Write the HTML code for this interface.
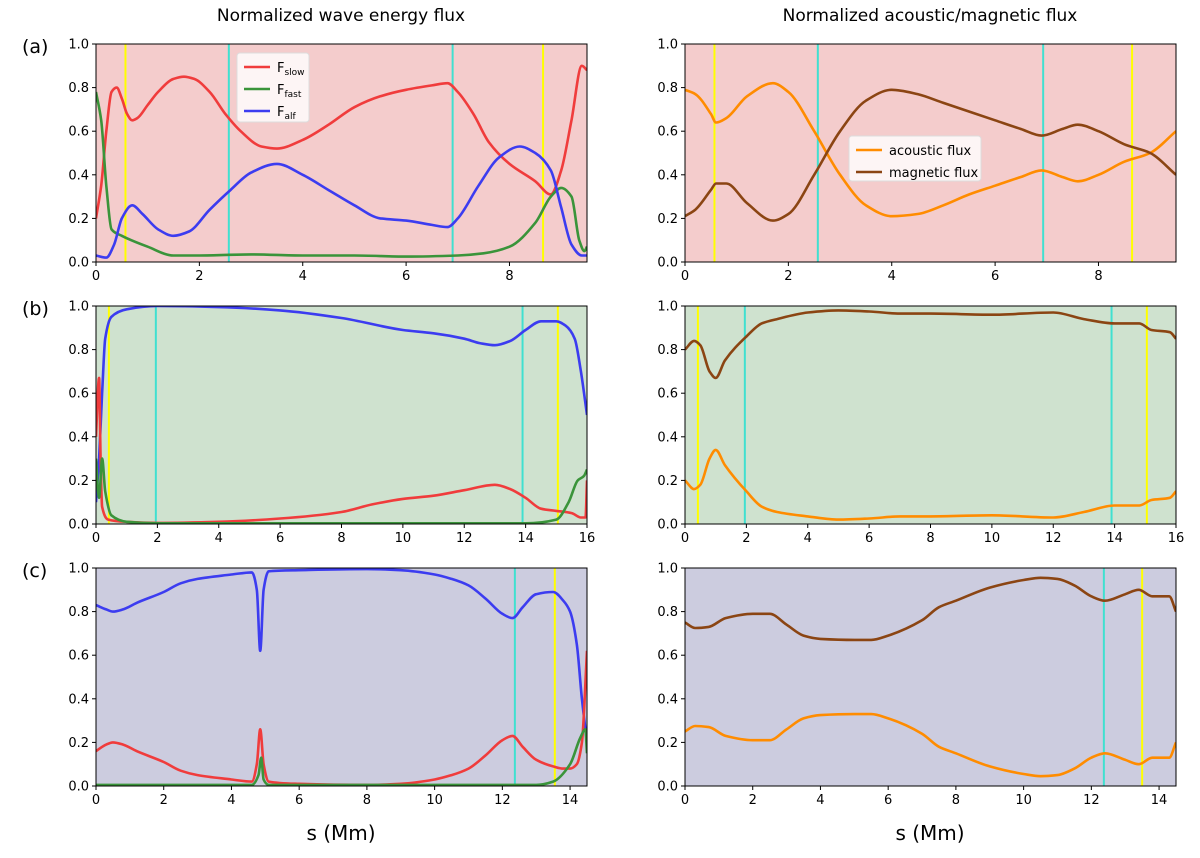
<!DOCTYPE html>
<html><head><meta charset="utf-8"><style>
body{margin:0;background:#fff;width:1200px;height:853px;overflow:hidden;font-family:"Liberation Sans",sans-serif}
svg text{font-family:"DejaVu Sans","Liberation Sans",sans-serif}
</style></head><body>
<svg id="fig" width="1200" height="853" viewBox="0 0 1200 853" xmlns="http://www.w3.org/2000/svg">
<text x="341" y="21" font-size="17" text-anchor="middle">Normalized wave energy flux</text>
<text x="930" y="21" font-size="17" text-anchor="middle">Normalized acoustic/magnetic flux</text>
<text x="22" y="53" font-size="19">(a)</text>
<text x="22" y="315" font-size="19">(b)</text>
<text x="22" y="577" font-size="19">(c)</text>
<text x="341" y="840" font-size="20" text-anchor="middle">s (Mm)</text>
<text x="930" y="840" font-size="20" text-anchor="middle">s (Mm)</text>
</svg>
<script>
// Panel (a) left
const aSx=[0,0.1,0.2,0.3,0.4,0.5,0.6,0.7,0.8,1.0,1.2,1.5,1.7,1.9,2.2,2.5,2.8,3.2,3.5,4.0,4.5,5.0,5.5,6.0,6.5,6.8,7.0,7.3,7.6,8.0,8.5,8.8,9.0,9.2,9.4,9.5];
const aSy=[0.2,0.35,0.6,0.78,0.8,0.75,0.68,0.65,0.66,0.72,0.78,0.84,0.85,0.84,0.78,0.68,0.6,0.53,0.52,0.56,0.63,0.71,0.76,0.79,0.81,0.82,0.78,0.68,0.55,0.45,0.37,0.31,0.42,0.65,0.9,0.88];
const aFx=[0,0.1,0.2,0.3,0.5,1.0,1.5,2,3,4,5,6,7,7.5,8,8.5,8.8,9.0,9.2,9.35,9.45,9.5];
const aFy=[0.78,0.65,0.35,0.15,0.12,0.07,0.03,0.03,0.035,0.03,0.03,0.025,0.03,0.04,0.07,0.18,0.3,0.34,0.3,0.1,0.05,0.07];
const aAx=[0,0.2,0.35,0.5,0.7,0.9,1.2,1.5,1.8,2.2,2.6,3.0,3.5,4.0,4.5,5.0,5.5,6.0,6.5,6.8,7.0,7.4,7.8,8.2,8.5,8.8,9.0,9.2,9.4,9.5];
const aAy=[0.03,0.02,0.08,0.2,0.26,0.22,0.15,0.12,0.14,0.24,0.33,0.41,0.45,0.4,0.33,0.26,0.2,0.19,0.17,0.16,0.2,0.35,0.48,0.53,0.5,0.42,0.25,0.08,0.03,0.03];
// Panel (a) right
const aRx=[0,0.2,0.5,0.6,0.8,1.2,1.7,2.0,2.5,3.0,3.5,4.0,4.5,5.0,5.5,6.0,6.5,6.9,7.3,7.6,8.0,8.5,9.0,9.5];
const aAcY=[0.79,0.77,0.68,0.64,0.66,0.76,0.82,0.78,0.6,0.4,0.26,0.21,0.22,0.26,0.31,0.35,0.39,0.42,0.39,0.37,0.4,0.46,0.5,0.6];
const aMgY=[0.21,0.24,0.33,0.36,0.36,0.27,0.19,0.22,0.4,0.6,0.74,0.79,0.77,0.73,0.69,0.65,0.61,0.58,0.61,0.63,0.6,0.54,0.5,0.4];
// Panel (b) left
const bAx=[0,0.1,0.2,0.3,0.5,1.0,2,4,6,8,10,11,12,12.5,13,13.5,14,14.5,15,15.3,15.6,15.8,16];
const bAy=[0.1,0.3,0.6,0.85,0.95,0.985,1.0,0.995,0.98,0.945,0.89,0.875,0.85,0.83,0.82,0.84,0.89,0.93,0.93,0.91,0.85,0.7,0.5];
const bSx=[0,0.1,0.15,0.2,0.4,1,2,4,6,8,9,10,11,12,13,13.5,14,14.5,15,15.5,15.8,15.95,16];
const bSy=[0.4,0.67,0.3,0.08,0.02,0.01,0.005,0.01,0.025,0.055,0.09,0.115,0.13,0.155,0.18,0.16,0.12,0.07,0.06,0.05,0.03,0.03,0.2];
const bFx=[0,0.1,0.2,0.3,0.5,1,2,14,15,15.4,15.7,15.9,16];
const bFy=[0.3,0.12,0.3,0.15,0.04,0.01,0.003,0.003,0.02,0.1,0.2,0.22,0.25];
// Panel (b) right
const bRx=[0,0.3,0.5,0.8,1.0,1.3,2,2.5,3,4,5,6,7,8,10,12,13,14,14.8,15.2,15.8,16];
const bMgY=[0.8,0.84,0.82,0.7,0.67,0.75,0.86,0.92,0.94,0.97,0.98,0.975,0.965,0.965,0.96,0.97,0.94,0.92,0.92,0.89,0.88,0.85];
const bAcY=[0.2,0.16,0.18,0.3,0.34,0.27,0.15,0.08,0.055,0.035,0.02,0.025,0.035,0.035,0.04,0.03,0.055,0.085,0.085,0.11,0.12,0.15];
// Panel (c) left
const cAx=[0,0.3,0.5,0.8,1.2,2,2.5,3,4,4.6,4.75,4.85,4.95,5.1,6,8,9,10,10.5,11,11.5,12,12.3,12.6,13,13.5,13.8,14,14.2,14.35,14.5];
const cAy=[0.83,0.81,0.8,0.81,0.84,0.89,0.93,0.95,0.97,0.98,0.9,0.62,0.9,0.985,0.99,0.995,0.99,0.97,0.95,0.92,0.86,0.79,0.77,0.82,0.88,0.89,0.85,0.8,0.65,0.4,0.2];
const cSy=[0.16,0.19,0.2,0.19,0.16,0.11,0.07,0.05,0.03,0.02,0.1,0.26,0.1,0.02,0.01,0.005,0.01,0.03,0.05,0.08,0.14,0.21,0.23,0.18,0.12,0.09,0.08,0.08,0.1,0.2,0.62];
const cFx=[0,4.6,4.8,4.88,4.95,5.1,13,13.5,14,14.3,14.45,14.5];
const cFy=[0.005,0.005,0.05,0.13,0.03,0.005,0.005,0.02,0.1,0.22,0.26,0.15];
// Panel (c) right
const cRx=[0,0.3,0.7,1.2,2,2.5,3,3.5,4,5,5.5,6,7,7.5,8,9,10,10.5,11,11.5,12,12.4,13,13.4,13.8,14.3,14.5];
const cMgY=[0.75,0.725,0.73,0.77,0.79,0.79,0.74,0.69,0.675,0.67,0.67,0.69,0.76,0.82,0.85,0.91,0.945,0.955,0.95,0.92,0.87,0.85,0.88,0.9,0.87,0.87,0.8];
const cAcY=[0.25,0.275,0.27,0.23,0.21,0.21,0.26,0.31,0.325,0.33,0.33,0.31,0.24,0.18,0.15,0.09,0.055,0.045,0.05,0.08,0.13,0.15,0.12,0.1,0.13,0.13,0.2];
const xTicksA=[0,2,4,6,8], xTicksB=[0,2,4,6,8,10,12,14,16], xTicksC=[0,2,4,6,8,10,12,14];
const yTicks=[0,0.2,0.4,0.6,0.8,1.0];
const yTickLabels=["0.0","0.2","0.4","0.6","0.8","1.0"];

const NS="http://www.w3.org/2000/svg", fig=document.getElementById('fig');
const RED="#f03c3c",GREEN="#3a943a",BLUE="#3c3cf0",ORANGE="#ff8c00",BROWN="#8b4513",CYAN="#40e0d0",YEL="#ffff00";
function mk(t,a,p){const e=document.createElementNS(NS,t);for(const k in a)e.setAttribute(k,a[k]);(p||fig).appendChild(e);return e;}
// monotone cubic (Fritsch-Carlson) in screen coords
function smoothPath(P){
  const n=P.length, d=[], m=[];
  for(let i=0;i<n-1;i++) d.push((P[i+1][1]-P[i][1])/(P[i+1][0]-P[i][0]));
  m[0]=d[0]; m[n-1]=d[n-2];
  for(let i=1;i<n-1;i++){
    if(d[i-1]*d[i]<=0) m[i]=0;
    else{const h0=P[i][0]-P[i-1][0],h1=P[i+1][0]-P[i][0];
      const w1=2*h1+h0,w2=h1+2*h0; m[i]=(w1+w2)/(w1/d[i-1]+w2/d[i]);}
  }
  let s='M'+P[0][0].toFixed(1)+','+P[0][1].toFixed(1);
  for(let i=0;i<n-1;i++){
    const h=(P[i+1][0]-P[i][0])/3;
    s+=' C'+(P[i][0]+h).toFixed(1)+','+(P[i][1]+m[i]*h).toFixed(1)+' '+(P[i+1][0]-h).toFixed(1)+','+(P[i+1][1]-m[i+1]*h).toFixed(1)+' '+P[i+1][0].toFixed(1)+','+P[i+1][1].toFixed(1);
  }
  return s;
}
function panel(name,x0,y0,xmax,bg,xt,vlines,series){
  const W=491,H=218;
  const sx=v=>x0+v/xmax*W, sy=v=>y0+H-v*H;
  const g=mk('g',{});
  
  
  const r=mk('rect',{x:x0,y:y0,width:W,height:H,fill:bg},g);
  
  
  const cid='clip-'+name;
  const cp=mk('clipPath',{id:cid},g);mk('rect',{x:x0,y:y0,width:W,height:H},cp);
  vlines.forEach(([v,c])=>{const l=mk('line',{x1:sx(v),x2:sx(v),y1:y0,y2:y0+H,stroke:c,'stroke-width':2},g);
    
    });
  series.forEach(([xs,ys,c,n])=>{const pts=xs.map((x,i)=>[sx(x),sy(ys[i])]);
    const p=mk('path',{d:smoothPath(pts),fill:'none',stroke:c,'stroke-width':2.6,'stroke-linejoin':'round','clip-path':'url(#'+cid+')'},g);
    
    });
  const f=mk('rect',{x:x0,y:y0,width:W,height:H,fill:'none',stroke:'#000','stroke-width':1},g);
  
  
  xt.forEach(v=>{mk('line',{x1:sx(v),x2:sx(v),y1:y0+H,y2:y0+H+4,stroke:'#000'},g);
    const t=mk('text',{x:sx(v),y:y0+H+18,'font-size':13,'text-anchor':'middle'},g);t.textContent=v;
    
    });
  yTicks.forEach((v,i)=>{mk('line',{x1:x0-4,x2:x0,y1:sy(v),y2:sy(v),stroke:'#000'},g);
    const t=mk('text',{x:x0-7,y:sy(v)+4.5,'font-size':13,'text-anchor':'end'},g);t.textContent=yTickLabels[i];
    
    });
}
const L=96,R=685, PA="#f4cccc",PB="#cfe2cf",PC="#ccccdf";
panel('panel-a-left',L,44,9.5,PA,xTicksA,[[0.57,YEL],[2.57,CYAN],[6.9,CYAN],[8.65,YEL]],[[aSx,aSy,RED,'f-slow-line'],[aFx,aFy,GREEN,'f-fast-line'],[aAx,aAy,BLUE,'f-alf-line']]);
panel('panel-a-right',R,44,9.5,PA,xTicksA,[[0.57,YEL],[2.57,CYAN],[6.93,CYAN],[8.65,YEL]],[[aRx,aAcY,ORANGE,'acoustic-flux-line'],[aRx,aMgY,BROWN,'magnetic-flux-line']]);
panel('panel-b-left',L,306,16,PB,xTicksB,[[0.42,YEL],[1.95,CYAN],[13.9,CYAN],[15.05,YEL]],[[bAx,bAy,BLUE,'f-alf-line'],[bSx,bSy,RED,'f-slow-line'],[bFx,bFy,GREEN,'f-fast-line']]);
panel('panel-b-right',R,306,16,PB,xTicksB,[[0.42,YEL],[1.95,CYAN],[13.9,CYAN],[15.05,YEL]],[[bRx,bMgY,BROWN,'magnetic-flux-line'],[bRx,bAcY,ORANGE,'acoustic-flux-line']]);
panel('panel-c-left',L,568,14.5,PC,xTicksC,[[12.37,CYAN],[13.55,YEL]],[[cAx,cAy,BLUE,'f-alf-line'],[cAx,cSy,RED,'f-slow-line'],[cFx,cFy,GREEN,'f-fast-line']]);
panel('panel-c-right',R,568,14.5,PC,xTicksC,[[12.37,CYAN],[13.5,YEL]],[[cRx,cMgY,BROWN,'magnetic-flux-line'],[cRx,cAcY,ORANGE,'acoustic-flux-line']]);

function legend(name,x,y,w,h,items){
  const g=mk('g',{});
  
  
  mk('rect',{x:x,y:y,width:w,height:h,rx:3,fill:'#fff','fill-opacity':0.8,stroke:'#ddd'},g);
  items.forEach(([c,lab,sub],i)=>{const yy=y+14+i*22;
    mk('line',{x1:x+7,x2:x+33,y1:yy,y2:yy,stroke:c,'stroke-width':2.6},g);
    const t=mk('text',{x:x+40,y:yy+5,'font-size':13},g);
    
    
    if(sub){t.textContent=lab;const s=mk('tspan',{'font-size':9,dy:3},t);s.textContent=sub;}else t.textContent=lab;});
}
legend('legend-left',237,53,72,69,[[RED,'F','slow'],[GREEN,'F','fast'],[BLUE,'F','alf']]);
legend('legend-right',849,136,132,45,[[ORANGE,'acoustic flux'],[BROWN,'magnetic flux']]);
</script>
</body></html>
